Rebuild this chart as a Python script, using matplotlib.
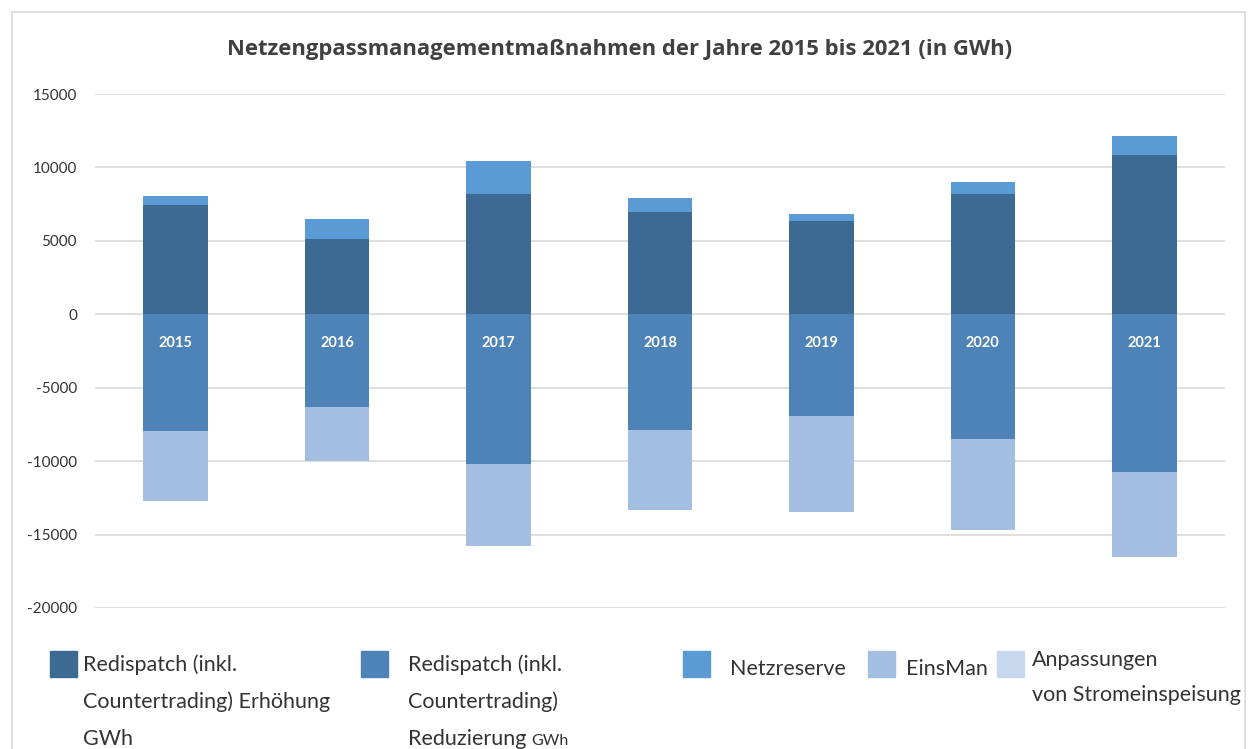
import matplotlib
matplotlib.use("Agg")
import matplotlib.pyplot as plt
from matplotlib.patches import Rectangle
import numpy as np

plt.rcParams["font.family"] = ["Lato", "DejaVu Sans"]

years = ["2015", "2016", "2017", "2018", "2019", "2020", "2021"]
redispatch_up = [7450, 5150, 8220, 6970, 6320, 8220, 10860]
netzreserve = [620, 1330, 2230, 940, 500, 760, 1290]
redispatch_down = [-7960, -6280, -10220, -7910, -6940, -8500, -10740]
einsman = [-4760, -3720, -5540, -5430, -6510, -6190, -5800]
anpassungen = [0, 0, 0, 0, 0, 0, 0]

title = "Netzengpassmanagementmaßnahmen der Jahre 2015 bis 2021 (in GWh)"
yticks = [15000, 10000, 5000, 0, -5000, -10000, -15000, -20000]

c_up = "#3d6a93"
c_down = "#4d83b6"
c_netz = "#5b9bd5"
c_eins = "#a3bee0"
c_anp = "#c7d7ee"

W, H = 1256, 749
fig = plt.figure(figsize=(W / 100, H / 100), dpi=100)
ax = fig.add_axes([95 / W, 1 - 608 / H, (1225 - 95) / W, (608 - 94) / H])

x = np.arange(len(years))
bw = 0.4
ax.bar(x, redispatch_up, bw, color=c_up, zorder=3)
ax.bar(x, netzreserve, bw, bottom=redispatch_up, color=c_netz, zorder=3)
ax.bar(x, redispatch_down, bw, color=c_down, zorder=3)
ax.bar(x, einsman, bw, bottom=redispatch_down, color=c_eins, zorder=3)
ax.bar(x, anpassungen, bw,
       bottom=np.array(redispatch_down) + np.array(einsman), color=c_anp, zorder=3)

for xi, yr in zip(x, years):
    ax.text(xi, -1950, yr, ha="center", va="center", color="white",
            fontsize=10.5, fontweight="bold", zorder=4)

ax.set_xlim(-0.5, len(years) - 0.5)
ax.set_ylim(-20000, 15000)
ax.set_yticks(yticks)
ax.set_yticklabels([str(t) for t in yticks], fontsize=11, color="#333333")
ax.tick_params(axis="y", length=0, pad=13)
ax.set_xticks([])
ax.grid(axis="y", color="#d9d9d9", linewidth=1.2, zorder=0)
for s in ax.spines.values():
    s.set_visible(False)

fig.text(620 / W, 1 - 50 / H, title, ha="center", va="center",
         fontsize=15.8, fontweight="bold", color="#404040", family="Open Sans")

# outer frame
fig.add_artist(Rectangle((12 / W, -0.01), (1245 - 12) / W, 1 - 12 / H + 0.01,
                         transform=fig.transFigure, fill=False,
                         edgecolor="#d9d9d9", linewidth=1.2))

# legend
def fy(py):
    return 1 - py / H

legend_items = [
    (50, c_up, 83, ["Redispatch (inkl.", "Countertrading) Erhöhung", "GWh"], 665),
    (361, c_down, 408, ["Redispatch (inkl.", "Countertrading)", "Reduzierung"], 665),
    (683, c_netz, 730, ["Netzreserve"], 669),
    (868, c_eins, 906, ["EinsMan"], 669),
    (997, c_anp, 1032, ["Anpassungen", "von Stromeinspeisung"], 660),
]
for sx, col, tx, lines, ty in legend_items:
    fig.add_artist(Rectangle((sx / W, fy(677)), 27 / W, 26 / H,
                             transform=fig.transFigure, color=col))
    for i, line in enumerate(lines):
        step = 35 if len(lines) == 2 else 37
        fig.text(tx / W, fy(ty + i * step), line, ha="left", va="center",
                 fontsize=15.5, color="#333333")
# small unit after "Reduzierung"
fig.text(531 / W, fy(741), "GWh", ha="left", va="center",
         fontsize=11.5, color="#333333")

fig.savefig("out.png", dpi=100)
